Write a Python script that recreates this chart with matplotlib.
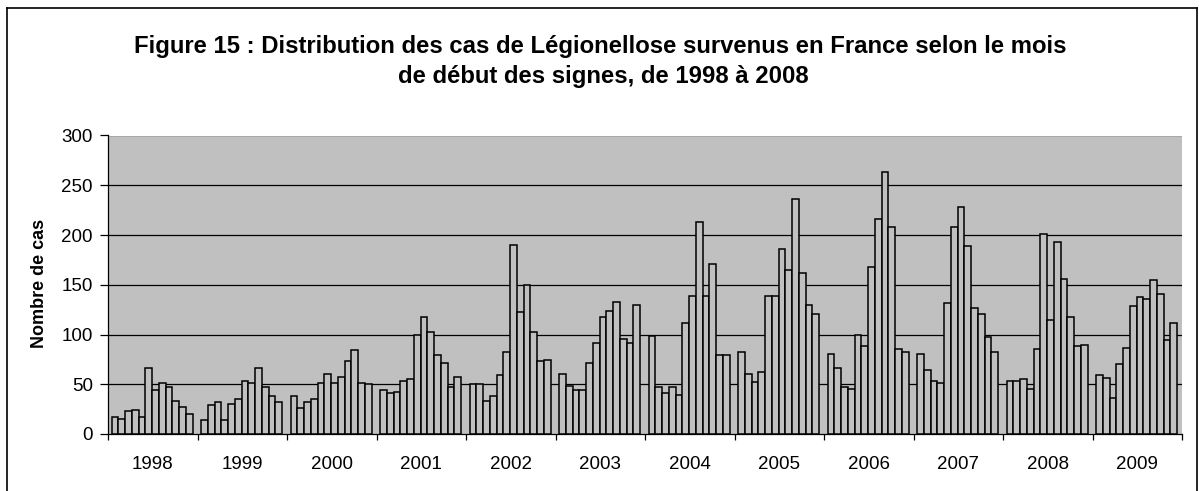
import matplotlib
matplotlib.use('Agg')
import matplotlib.pyplot as plt
from matplotlib.lines import Line2D
import numpy as np

plt.rcParams['font.family'] = ['Liberation Sans', 'DejaVu Sans']

years = ['1998', '1999', '2000', '2001', '2002', '2003',
         '2004', '2005', '2006', '2007', '2008', '2009']

cases_1998 = [17, 15, 23, 24, 17, 66, 44, 51, 47, 33, 27, 20]
cases_1999 = [14, 29, 32, 14, 30, 35, 53, 51, 66, 47, 38, 32]
cases_2000 = [38, 26, 32, 35, 51, 60, 51, 57, 73, 84, 51, 50]
cases_2001 = [44, 41, 42, 53, 55, 100, 118, 103, 79, 71, 47, 57]
cases_2002 = [50, 50, 33, 38, 59, 82, 190, 123, 150, 103, 73, 74]
cases_2003 = [60, 48, 44, 44, 71, 91, 118, 124, 133, 95, 91, 130]
cases_2004 = [98, 47, 41, 47, 39, 112, 139, 213, 139, 171, 79, 79]
cases_2005 = [82, 60, 52, 62, 139, 139, 186, 165, 236, 162, 130, 121]
cases_2006 = [80, 66, 47, 45, 100, 88, 168, 216, 263, 208, 85, 82]
cases_2007 = [80, 64, 53, 51, 132, 208, 228, 189, 127, 121, 97, 82]
cases_2008 = [53, 53, 55, 45, 85, 201, 115, 193, 156, 118, 88, 89]
cases_2009 = [59, 56, 36, 70, 86, 129, 138, 136, 155, 141, 94, 112]

all_years = [cases_1998, cases_1999, cases_2000, cases_2001, cases_2002, cases_2003,
             cases_2004, cases_2005, cases_2006, cases_2007, cases_2008, cases_2009]

y_ticks = [0, 50, 100, 150, 200, 250, 300]
title_line1 = "Figure 15 : Distribution des cas de Légionellose survenus en France selon le mois"
title_line2 = "de début des signes, de 1998 à 2008"
ylabel = "Nombre de cas"

W, H = 1199, 491
fig = plt.figure(figsize=(W / 100, H / 100), dpi=100)
fig.patch.set_facecolor('white')

ax = fig.add_axes([108 / W, 1 - 434 / H, (1182 - 108) / W, (434 - 135.5) / H])
ax.set_facecolor('#C0C0C0')

year_w = 13.28   # width of one year group in bar units
offset = 0.55
for yi, vals in enumerate(all_years):
    xs = yi * year_w + offset + np.arange(len(vals))
    ax.bar(xs, vals, width=1.0, align='edge', color='#C0C0C0',
           edgecolor='black', linewidth=1.1, zorder=3)

ax.set_xlim(0, len(years) * year_w)
ax.set_ylim(0, 300)

for v in y_ticks[1:]:
    ax.axhline(v, color='black', linewidth=0.9, zorder=1)

ax.set_yticks(y_ticks)
ax.tick_params(axis='y', direction='out', length=6, width=0.9, labelsize=13.5, pad=5)
ax.set_xticks([i * year_w for i in range(len(years) + 1)])
ax.set_xticklabels([])
ax.tick_params(axis='x', direction='out', length=4.5, width=0.9)
ax.set_xticks([(i + 0.5) * year_w for i in range(len(years))], minor=True)
ax.set_xticklabels(years, minor=True)
ax.tick_params(axis='x', which='minor', length=0, labelsize=13.5, pad=16)

for s in ['top', 'right']:
    ax.spines[s].set_visible(False)
for s in ['left', 'bottom']:
    ax.spines[s].set_color('black')
    ax.spines[s].set_linewidth(0.9)

fig.text(40 / W, 1 - 283 / H, ylabel, rotation=90, ha='center', va='center',
         fontsize=13, fontweight='bold')

fig.text(600 / W, 1 - 47 / H, title_line1, ha='center', va='center', fontsize=17.2,
         fontweight='bold')
fig.text(603 / W, 1 - 76 / H, title_line2, ha='center', va='center', fontsize=17.2,
         fontweight='bold')

# outer chart frame
fig.add_artist(Line2D([7 / W, 7 / W], [0, 1 - 8 / H], transform=fig.transFigure,
                      color='black', linewidth=1.2))
fig.add_artist(Line2D([1197 / W, 1197 / W], [0, 1 - 8 / H], transform=fig.transFigure,
                      color='black', linewidth=1.2))
fig.add_artist(Line2D([7 / W, 1197 / W], [1 - 8 / H, 1 - 8 / H], transform=fig.transFigure,
                      color='black', linewidth=1.2))

fig.savefig('out.png', dpi=100, facecolor='white')
